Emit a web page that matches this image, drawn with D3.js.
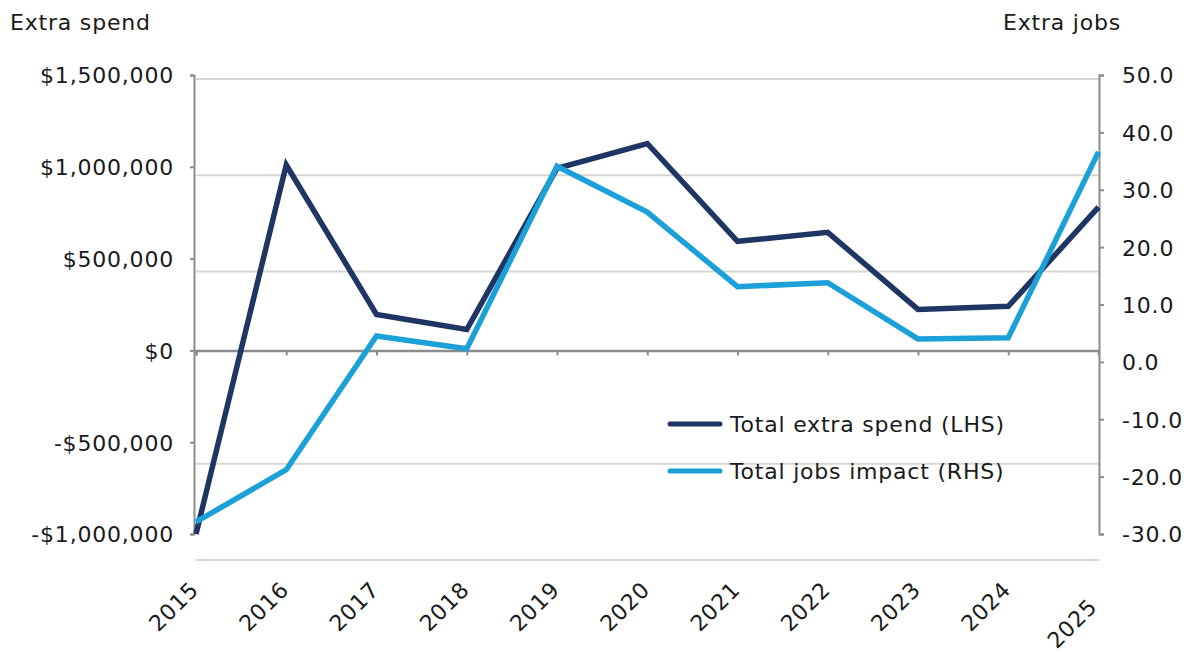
<!DOCTYPE html>
<html>
<head>
<meta charset="utf-8">
<script src="https://cdn.jsdelivr.net/npm/d3@7"></script>
<style>
  html, body { margin: 0; padding: 0; background: #fff; }
  svg text { font-family: "DejaVu Sans", sans-serif; fill: #1a1a1a; letter-spacing: 0.8px; }
</style>
</head>
<body>
<svg id="chart" width="1198" height="654"></svg>
<script>
const years = ["2015","2016","2017","2018","2019","2020","2021","2022","2023","2024","2025"];
const extraSpend = [-1000000, 1010000, 196000, 114000, 991000, 1127000, 594000, 643000, 223000, 240000, 780000];
const jobsImpact = [-27.9, -18.8, 4.5, 2.3, 34.1, 26.1, 13.1, 13.8, 4.0, 4.2, 36.6];
const leftTicks = [-1000000, -500000, 0, 500000, 1000000, 1500000];
const rightTicks = [-30, -20, -10, 0, 10, 20, 30, 40, 50];
const gridLevels = [0, 1, 3, 4, 5];
const seriesNames = ["Total extra spend (LHS)", "Total jobs impact (RHS)"];

const svg = d3.select("#chart");
const dark = "#1f3564", light = "#1ba1d8", axisCol = "#8c8c8c", gridCol = "#d9d6d2";
const FS = "22px";

const x = d3.scalePoint().domain(years).range([196, 1098.5]);
const yL = d3.scaleLinear().domain([-1000000, 1500000]).range([534, 75]);
const yR = d3.scaleLinear().domain([-30, 50]).range([534, 75]);
const yG = d3.scaleLinear().domain([0, 5]).range([560, 79]);

// gridlines
svg.append("g").selectAll("line").data(gridLevels).join("line")
  .attr("x1", 196).attr("x2", 1099)
  .attr("y1", d => yG(d)).attr("y2", d => yG(d))
  .attr("stroke", gridCol).attr("stroke-width", 2);

const fmt = v => (v < 0 ? "-$" : "$") + d3.format(",")(Math.abs(v));
const fmtR = v => (v < 0 ? "-" : "") + d3.format(".1f")(Math.abs(v));

// left axis
const gl = svg.append("g").attr("transform", "translate(194,0)")
  .call(d3.axisLeft(yL).tickValues(leftTicks).tickFormat(fmt).tickSize(4).tickPadding(16));
gl.select(".domain").attr("stroke", axisCol).attr("stroke-width", 2);
gl.selectAll(".tick line").attr("stroke", axisCol).attr("stroke-width", 2);
gl.selectAll(".tick text").style("font-size", FS).attr("fill", "#1a1a1a").attr("dy", "0.36em");

// right axis
const gr = svg.append("g").attr("transform", "translate(1099,0)")
  .call(d3.axisRight(yR).tickValues(rightTicks).tickFormat(fmtR).tickSize(5).tickPadding(18));
gr.select(".domain").attr("stroke", axisCol).attr("stroke-width", 2);
gr.selectAll(".tick line").attr("stroke", axisCol).attr("stroke-width", 2);
gr.selectAll(".tick text").style("font-size", FS).attr("fill", "#1a1a1a").attr("dy", "0.36em");

// zero axis with category ticks
const gx = svg.append("g").attr("transform", `translate(0,${yL(0)})`)
  .call(d3.axisBottom(x).tickSize(5).tickFormat(""));
gx.select(".domain").attr("stroke", axisCol).attr("stroke-width", 2.5);
gx.selectAll(".tick line").attr("stroke", axisCol).attr("stroke-width", 2);

// category labels
svg.append("g").selectAll("text").data(years).join("text")
  .attr("transform", (d, i) => {
    const dx = i === years.length - 1 ? -4 : 0;
    const dy = i === years.length - 1 ? 17 : 0;
    return `translate(${x(d) + 4 + dx},${591 + dy}) rotate(-45)`;
  })
  .attr("text-anchor", "end")
  .style("font-size", FS)
  .text(d => d);

// lines
const lineL = d3.line().x((d, i) => x(years[i])).y(d => yL(d));
const lineR = d3.line().x((d, i) => x(years[i])).y(d => yR(d));
svg.append("path").datum(extraSpend).attr("d", lineL)
  .attr("fill", "none").attr("stroke", dark).attr("stroke-width", 5.5).attr("stroke-linejoin", "miter");
svg.append("path").datum(jobsImpact).attr("d", lineR)
  .attr("fill", "none").attr("stroke", light).attr("stroke-width", 5.5).attr("stroke-linejoin", "miter");

// axis titles
svg.append("text").attr("x", 10).attr("y", 30).style("font-size", FS).text("Extra spend");
svg.append("text").attr("x", 1003).attr("y", 30).style("font-size", FS).text("Extra jobs");

// legend
const leg = svg.append("g");
[dark, light].forEach((c, i) => {
  const yy = 424 + i * 47;
  leg.append("line").attr("x1", 670).attr("x2", 720).attr("y1", yy).attr("y2", yy)
    .attr("stroke", c).attr("stroke-width", 5).attr("stroke-linecap", "round");
  leg.append("text").attr("x", 730).attr("y", yy + 8).style("font-size", FS).text(seriesNames[i]);
});
</script>
</body>
</html>
